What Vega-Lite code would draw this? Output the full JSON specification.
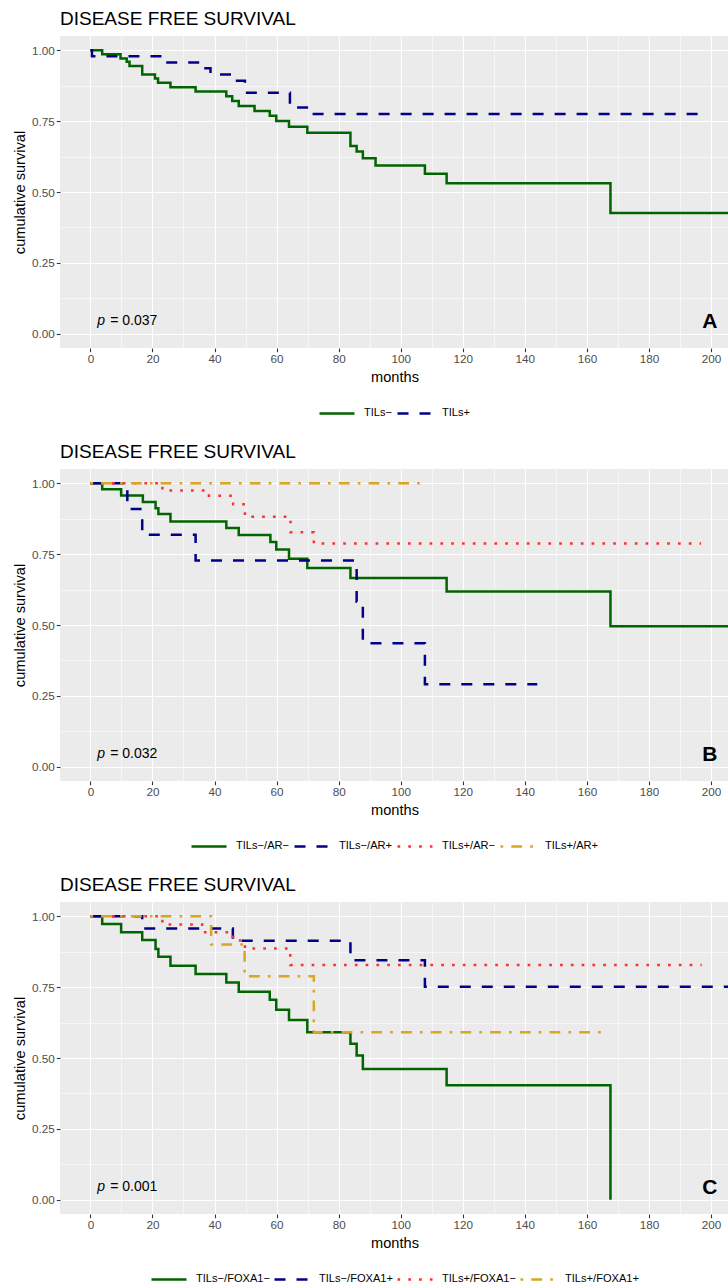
{
  "$schema": "https://vega.github.io/schema/vega-lite/v6.json",
  "padding": {"left": 12, "top": 10, "right": 0, "bottom": 0},
  "spacing": 24,
  "config": {
    "font": "Liberation Sans",
    "view": {"fill": "#EBEBEB", "stroke": null},
    "axis": {"domain": false, "gridColor": "#FFFFFF", "tickColor": "#333333", "tickSize": 3.7, "tickWidth": 1.1, "labelColor": "#4D4D4D", "labelFontSize": 11.7, "labelPadding": 2, "labelFont": "Liberation Sans", "titleFont": "Liberation Sans", "titleFontSize": 14.6, "titleFontWeight": "normal", "titleColor": "#000000", "titlePadding": 4, "labelOverlap": false, "labelFlush": false},
    "title": {"fontSize": 19, "fontWeight": "normal", "anchor": "start", "frame": "group", "color": "#000000", "offset": 7, "font": "Liberation Sans"},
    "legend": {"orient": "bottom", "direction": "horizontal", "layout": {"bottom": {"anchor": "middle"}}, "labelFontSize": 11.1, "labelColor": "#000000", "labelFont": "Liberation Sans", "symbolType": "stroke", "symbolSize": 1225, "symbolStrokeWidth": 2.5, "columnPadding": -1, "labelOffset": 8, "offset": 10}
  },
  "resolve": {
    "scale": {"color": "independent", "strokeDash": "independent", "x": "independent", "y": "independent"},
    "legend": {"color": "independent", "strokeDash": "independent"}
  },
  "vconcat": [
    {
      "title": {"text": "DISEASE FREE SURVIVAL", "anchor": "start", "frame": "group"},
      "width": 669, "height": 312,
      "encoding": {
        "x": {"field": "month", "type": "quantitative", "title": "months", "scale": {"domain": [-9.8, 205.8], "nice": false, "zero": false},
          "axis": {"values": [0,10,20,30,40,50,60,70,80,90,100,110,120,130,140,150,160,170,180,190,200], "labelExpr": "datum.value % 20 === 0 ? datum.label : ''", "tickOpacity": {"condition": {"test": "datum.value % 20 === 0", "value": 1}, "value": 0}, "gridWidth": {"condition": {"test": "datum.value % 20 === 0", "value": 1.1}, "value": 0.55}}},
        "y": {"field": "surv", "type": "quantitative", "title": "cumulative survival", "scale": {"domain": [-0.05, 1.05], "nice": false, "zero": false},
          "axis": {"values": [0,0.125,0.25,0.375,0.5,0.625,0.75,0.875,1], "labelExpr": "(datum.value * 4) % 1 === 0 ? format(datum.value, '.2f') : ''", "tickOpacity": {"condition": {"test": "(datum.value * 4) % 1 === 0", "value": 1}, "value": 0}, "gridWidth": {"condition": {"test": "(datum.value * 4) % 1 === 0", "value": 1.1}, "value": 0.55}}}
      },
      "layer": [
        {
          "data": {"values": [
            {"group": "TILs−", "month": 0, "surv": 1},
            {"group": "TILs−", "month": 3.8, "surv": 0.986},
            {"group": "TILs−", "month": 9.7, "surv": 0.971},
            {"group": "TILs−", "month": 11.7, "surv": 0.959},
            {"group": "TILs−", "month": 12.6, "surv": 0.944},
            {"group": "TILs−", "month": 16.7, "surv": 0.914},
            {"group": "TILs−", "month": 20.8, "surv": 0.9},
            {"group": "TILs−", "month": 21.8, "surv": 0.885},
            {"group": "TILs−", "month": 25.8, "surv": 0.869},
            {"group": "TILs−", "month": 33.9, "surv": 0.854},
            {"group": "TILs−", "month": 43.8, "surv": 0.838},
            {"group": "TILs−", "month": 45.7, "surv": 0.821},
            {"group": "TILs−", "month": 47.8, "surv": 0.803},
            {"group": "TILs−", "month": 52.9, "surv": 0.786},
            {"group": "TILs−", "month": 57.8, "surv": 0.769},
            {"group": "TILs−", "month": 59.9, "surv": 0.75},
            {"group": "TILs−", "month": 64, "surv": 0.73},
            {"group": "TILs−", "month": 69.9, "surv": 0.709},
            {"group": "TILs−", "month": 83.8, "surv": 0.662},
            {"group": "TILs−", "month": 85.8, "surv": 0.643},
            {"group": "TILs−", "month": 87.8, "surv": 0.619},
            {"group": "TILs−", "month": 91.9, "surv": 0.593},
            {"group": "TILs−", "month": 107.8, "surv": 0.564},
            {"group": "TILs−", "month": 114.8, "surv": 0.531},
            {"group": "TILs−", "month": 167.6, "surv": 0.426},
            {"group": "TILs−", "month": 215, "surv": 0.426},
            {"group": "TILs+", "month": 0, "surv": 1},
            {"group": "TILs+", "month": 0.5, "surv": 0.979},
            {"group": "TILs+", "month": 24, "surv": 0.957},
            {"group": "TILs+", "month": 35.8, "surv": 0.936},
            {"group": "TILs+", "month": 38.7, "surv": 0.914},
            {"group": "TILs+", "month": 46, "surv": 0.892},
            {"group": "TILs+", "month": 49.8, "surv": 0.85},
            {"group": "TILs+", "month": 64.3, "surv": 0.798},
            {"group": "TILs+", "month": 71, "surv": 0.775},
            {"group": "TILs+", "month": 196.5, "surv": 0.775}
          ]},
          "mark": {"type": "line", "interpolate": "step-after", "strokeWidth": 2.5, "clip": true},
          "encoding": {
            "color": {"field": "group", "type": "nominal", "scale": {"domain": ["TILs−", "TILs+"], "range": ["#006400", "#00008B"]}, "legend": {"title": null}},
            "strokeDash": {"field": "group", "type": "nominal", "scale": {"domain": ["TILs−", "TILs+"], "range": [[1, 0], [11, 11]]}, "legend": {"title": null}}
          }
        },
        {
          "data": {"values": [{"month": 2.2, "surv": 0.032, "t": "p"}]},
          "mark": {"type": "text", "align": "left", "baseline": "alphabetic", "fontSize": 14, "fontStyle": "italic", "font": "Liberation Sans", "color": "#000000"},
          "encoding": {"text": {"field": "t"}}
        },
        {
          "data": {"values": [{"month": 2.2, "surv": 0.032, "t": "= 0.037"}]},
          "mark": {"type": "text", "align": "left", "baseline": "alphabetic", "dx": 13, "fontSize": 14, "font": "Liberation Sans", "color": "#000000"},
          "encoding": {"text": {"field": "t"}}
        },
        {
          "data": {"values": [{"month": 202.1, "surv": 0.022, "t": "A"}]},
          "mark": {"type": "text", "align": "right", "baseline": "alphabetic", "fontSize": 21, "fontWeight": "bold", "font": "Liberation Sans", "color": "#000000"},
          "encoding": {"text": {"field": "t"}}
        }
      ]
    },
    {
      "title": {"text": "DISEASE FREE SURVIVAL", "anchor": "start", "frame": "group"},
      "width": 669, "height": 312,
      "encoding": {
        "x": {"field": "month", "type": "quantitative", "title": "months", "scale": {"domain": [-9.8, 205.8], "nice": false, "zero": false},
          "axis": {"values": [0,10,20,30,40,50,60,70,80,90,100,110,120,130,140,150,160,170,180,190,200], "labelExpr": "datum.value % 20 === 0 ? datum.label : ''", "tickOpacity": {"condition": {"test": "datum.value % 20 === 0", "value": 1}, "value": 0}, "gridWidth": {"condition": {"test": "datum.value % 20 === 0", "value": 1.1}, "value": 0.55}}},
        "y": {"field": "surv", "type": "quantitative", "title": "cumulative survival", "scale": {"domain": [-0.05, 1.05], "nice": false, "zero": false},
          "axis": {"values": [0,0.125,0.25,0.375,0.5,0.625,0.75,0.875,1], "labelExpr": "(datum.value * 4) % 1 === 0 ? format(datum.value, '.2f') : ''", "tickOpacity": {"condition": {"test": "(datum.value * 4) % 1 === 0", "value": 1}, "value": 0}, "gridWidth": {"condition": {"test": "(datum.value * 4) % 1 === 0", "value": 1.1}, "value": 0.55}}}
      },
      "layer": [
        {
          "data": {"values": [
            {"group": "TILs−/AR−", "month": 0, "surv": 1},
            {"group": "TILs−/AR−", "month": 3.8, "surv": 0.979},
            {"group": "TILs−/AR−", "month": 9.9, "surv": 0.957},
            {"group": "TILs−/AR−", "month": 16.9, "surv": 0.934},
            {"group": "TILs−/AR−", "month": 21, "surv": 0.912},
            {"group": "TILs−/AR−", "month": 21.9, "surv": 0.891},
            {"group": "TILs−/AR−", "month": 25.8, "surv": 0.865},
            {"group": "TILs−/AR−", "month": 43.8, "surv": 0.842},
            {"group": "TILs−/AR−", "month": 47.8, "surv": 0.817},
            {"group": "TILs−/AR−", "month": 58, "surv": 0.793},
            {"group": "TILs−/AR−", "month": 59.9, "surv": 0.766},
            {"group": "TILs−/AR−", "month": 64, "surv": 0.734},
            {"group": "TILs−/AR−", "month": 69.9, "surv": 0.701},
            {"group": "TILs−/AR−", "month": 83.8, "surv": 0.666},
            {"group": "TILs−/AR−", "month": 114.8, "surv": 0.618},
            {"group": "TILs−/AR−", "month": 167.6, "surv": 0.496},
            {"group": "TILs−/AR−", "month": 215, "surv": 0.496},
            {"group": "TILs−/AR+", "month": 0, "surv": 1},
            {"group": "TILs−/AR+", "month": 11.9, "surv": 0.909},
            {"group": "TILs−/AR+", "month": 16.7, "surv": 0.818},
            {"group": "TILs−/AR+", "month": 33.9, "surv": 0.727},
            {"group": "TILs−/AR+", "month": 85.8, "surv": 0.582},
            {"group": "TILs−/AR+", "month": 87.8, "surv": 0.436},
            {"group": "TILs−/AR+", "month": 107.8, "surv": 0.291},
            {"group": "TILs−/AR+", "month": 144, "surv": 0.291},
            {"group": "TILs+/AR−", "month": 0, "surv": 1},
            {"group": "TILs+/AR−", "month": 23.2, "surv": 0.974},
            {"group": "TILs+/AR−", "month": 38.2, "surv": 0.956},
            {"group": "TILs+/AR−", "month": 46, "surv": 0.926},
            {"group": "TILs+/AR−", "month": 49.8, "surv": 0.882},
            {"group": "TILs+/AR−", "month": 64.5, "surv": 0.827},
            {"group": "TILs+/AR−", "month": 72, "surv": 0.787},
            {"group": "TILs+/AR−", "month": 196.8, "surv": 0.787},
            {"group": "TILs+/AR+", "month": 0, "surv": 1},
            {"group": "TILs+/AR+", "month": 107.6, "surv": 1}
          ]},
          "mark": {"type": "line", "interpolate": "step-after", "strokeWidth": 2.5, "clip": true},
          "encoding": {
            "color": {"field": "group", "type": "nominal", "scale": {"domain": ["TILs−/AR−", "TILs−/AR+", "TILs+/AR−", "TILs+/AR+"], "range": ["#006400", "#00008B", "#FF3030", "#DAA520"]}, "legend": {"title": null}},
            "strokeDash": {"field": "group", "type": "nominal", "scale": {"domain": ["TILs−/AR−", "TILs−/AR+", "TILs+/AR−", "TILs+/AR+"], "range": [[1, 0], [11, 11], [2.7, 8.1], [2.7, 8.1, 10.8, 8.1]]}, "legend": {"title": null}}
          }
        },
        {
          "data": {"values": [{"month": 2.2, "surv": 0.032, "t": "p"}]},
          "mark": {"type": "text", "align": "left", "baseline": "alphabetic", "fontSize": 14, "fontStyle": "italic", "font": "Liberation Sans", "color": "#000000"},
          "encoding": {"text": {"field": "t"}}
        },
        {
          "data": {"values": [{"month": 2.2, "surv": 0.032, "t": "= 0.032"}]},
          "mark": {"type": "text", "align": "left", "baseline": "alphabetic", "dx": 13, "fontSize": 14, "font": "Liberation Sans", "color": "#000000"},
          "encoding": {"text": {"field": "t"}}
        },
        {
          "data": {"values": [{"month": 202.1, "surv": 0.022, "t": "B"}]},
          "mark": {"type": "text", "align": "right", "baseline": "alphabetic", "fontSize": 21, "fontWeight": "bold", "font": "Liberation Sans", "color": "#000000"},
          "encoding": {"text": {"field": "t"}}
        }
      ]
    },
    {
      "title": {"text": "DISEASE FREE SURVIVAL", "anchor": "start", "frame": "group"},
      "width": 669, "height": 312,
      "encoding": {
        "x": {"field": "month", "type": "quantitative", "title": "months", "scale": {"domain": [-9.8, 205.8], "nice": false, "zero": false},
          "axis": {"values": [0,10,20,30,40,50,60,70,80,90,100,110,120,130,140,150,160,170,180,190,200], "labelExpr": "datum.value % 20 === 0 ? datum.label : ''", "tickOpacity": {"condition": {"test": "datum.value % 20 === 0", "value": 1}, "value": 0}, "gridWidth": {"condition": {"test": "datum.value % 20 === 0", "value": 1.1}, "value": 0.55}}},
        "y": {"field": "surv", "type": "quantitative", "title": "cumulative survival", "scale": {"domain": [-0.05, 1.05], "nice": false, "zero": false},
          "axis": {"values": [0,0.125,0.25,0.375,0.5,0.625,0.75,0.875,1], "labelExpr": "(datum.value * 4) % 1 === 0 ? format(datum.value, '.2f') : ''", "tickOpacity": {"condition": {"test": "(datum.value * 4) % 1 === 0", "value": 1}, "value": 0}, "gridWidth": {"condition": {"test": "(datum.value * 4) % 1 === 0", "value": 1.1}, "value": 0.55}}}
      },
      "layer": [
        {
          "data": {"values": [
            {"group": "TILs−/FOXA1−", "month": 0, "surv": 1},
            {"group": "TILs−/FOXA1−", "month": 3.8, "surv": 0.972},
            {"group": "TILs−/FOXA1−", "month": 9.9, "surv": 0.943},
            {"group": "TILs−/FOXA1−", "month": 16.7, "surv": 0.916},
            {"group": "TILs−/FOXA1−", "month": 21, "surv": 0.884},
            {"group": "TILs−/FOXA1−", "month": 21.9, "surv": 0.857},
            {"group": "TILs−/FOXA1−", "month": 25.8, "surv": 0.825},
            {"group": "TILs−/FOXA1−", "month": 33.9, "surv": 0.796},
            {"group": "TILs−/FOXA1−", "month": 43.8, "surv": 0.766},
            {"group": "TILs−/FOXA1−", "month": 47.8, "surv": 0.734},
            {"group": "TILs−/FOXA1−", "month": 57.8, "surv": 0.705},
            {"group": "TILs−/FOXA1−", "month": 59.9, "surv": 0.67},
            {"group": "TILs−/FOXA1−", "month": 64, "surv": 0.634},
            {"group": "TILs−/FOXA1−", "month": 69.9, "surv": 0.591},
            {"group": "TILs−/FOXA1−", "month": 83.8, "surv": 0.55},
            {"group": "TILs−/FOXA1−", "month": 85.8, "surv": 0.509},
            {"group": "TILs−/FOXA1−", "month": 87.8, "surv": 0.461},
            {"group": "TILs−/FOXA1−", "month": 114.8, "surv": 0.404},
            {"group": "TILs−/FOXA1−", "month": 167.6, "surv": 0},
            {"group": "TILs−/FOXA1+", "month": 0, "surv": 1},
            {"group": "TILs−/FOXA1+", "month": 16.7, "surv": 0.957},
            {"group": "TILs−/FOXA1+", "month": 45.9, "surv": 0.913},
            {"group": "TILs−/FOXA1+", "month": 83.8, "surv": 0.845},
            {"group": "TILs−/FOXA1+", "month": 107.8, "surv": 0.751},
            {"group": "TILs−/FOXA1+", "month": 215, "surv": 0.751},
            {"group": "TILs+/FOXA1−", "month": 0, "surv": 1},
            {"group": "TILs+/FOXA1−", "month": 23.2, "surv": 0.971},
            {"group": "TILs+/FOXA1−", "month": 36, "surv": 0.943},
            {"group": "TILs+/FOXA1−", "month": 46, "surv": 0.914},
            {"group": "TILs+/FOXA1−", "month": 49.8, "surv": 0.886},
            {"group": "TILs+/FOXA1−", "month": 64.4, "surv": 0.828},
            {"group": "TILs+/FOXA1−", "month": 197, "surv": 0.828},
            {"group": "TILs+/FOXA1+", "month": 0, "surv": 1},
            {"group": "TILs+/FOXA1+", "month": 38.9, "surv": 0.9},
            {"group": "TILs+/FOXA1+", "month": 49.7, "surv": 0.788},
            {"group": "TILs+/FOXA1+", "month": 72, "surv": 0.591},
            {"group": "TILs+/FOXA1+", "month": 164.5, "surv": 0.591}
          ]},
          "mark": {"type": "line", "interpolate": "step-after", "strokeWidth": 2.5, "clip": true},
          "encoding": {
            "color": {"field": "group", "type": "nominal", "scale": {"domain": ["TILs−/FOXA1−", "TILs−/FOXA1+", "TILs+/FOXA1−", "TILs+/FOXA1+"], "range": ["#006400", "#00008B", "#FF3030", "#DAA520"]}, "legend": {"title": null}},
            "strokeDash": {"field": "group", "type": "nominal", "scale": {"domain": ["TILs−/FOXA1−", "TILs−/FOXA1+", "TILs+/FOXA1−", "TILs+/FOXA1+"], "range": [[1, 0], [11, 11], [2.7, 8.1], [2.7, 8.1, 10.8, 8.1]]}, "legend": {"title": null}}
          }
        },
        {
          "data": {"values": [{"month": 2.2, "surv": 0.032, "t": "p"}]},
          "mark": {"type": "text", "align": "left", "baseline": "alphabetic", "fontSize": 14, "fontStyle": "italic", "font": "Liberation Sans", "color": "#000000"},
          "encoding": {"text": {"field": "t"}}
        },
        {
          "data": {"values": [{"month": 2.2, "surv": 0.032, "t": "= 0.001"}]},
          "mark": {"type": "text", "align": "left", "baseline": "alphabetic", "dx": 13, "fontSize": 14, "font": "Liberation Sans", "color": "#000000"},
          "encoding": {"text": {"field": "t"}}
        },
        {
          "data": {"values": [{"month": 202.1, "surv": 0.022, "t": "C"}]},
          "mark": {"type": "text", "align": "right", "baseline": "alphabetic", "fontSize": 21, "fontWeight": "bold", "font": "Liberation Sans", "color": "#000000"},
          "encoding": {"text": {"field": "t"}}
        }
      ]
    }
  ]
}
